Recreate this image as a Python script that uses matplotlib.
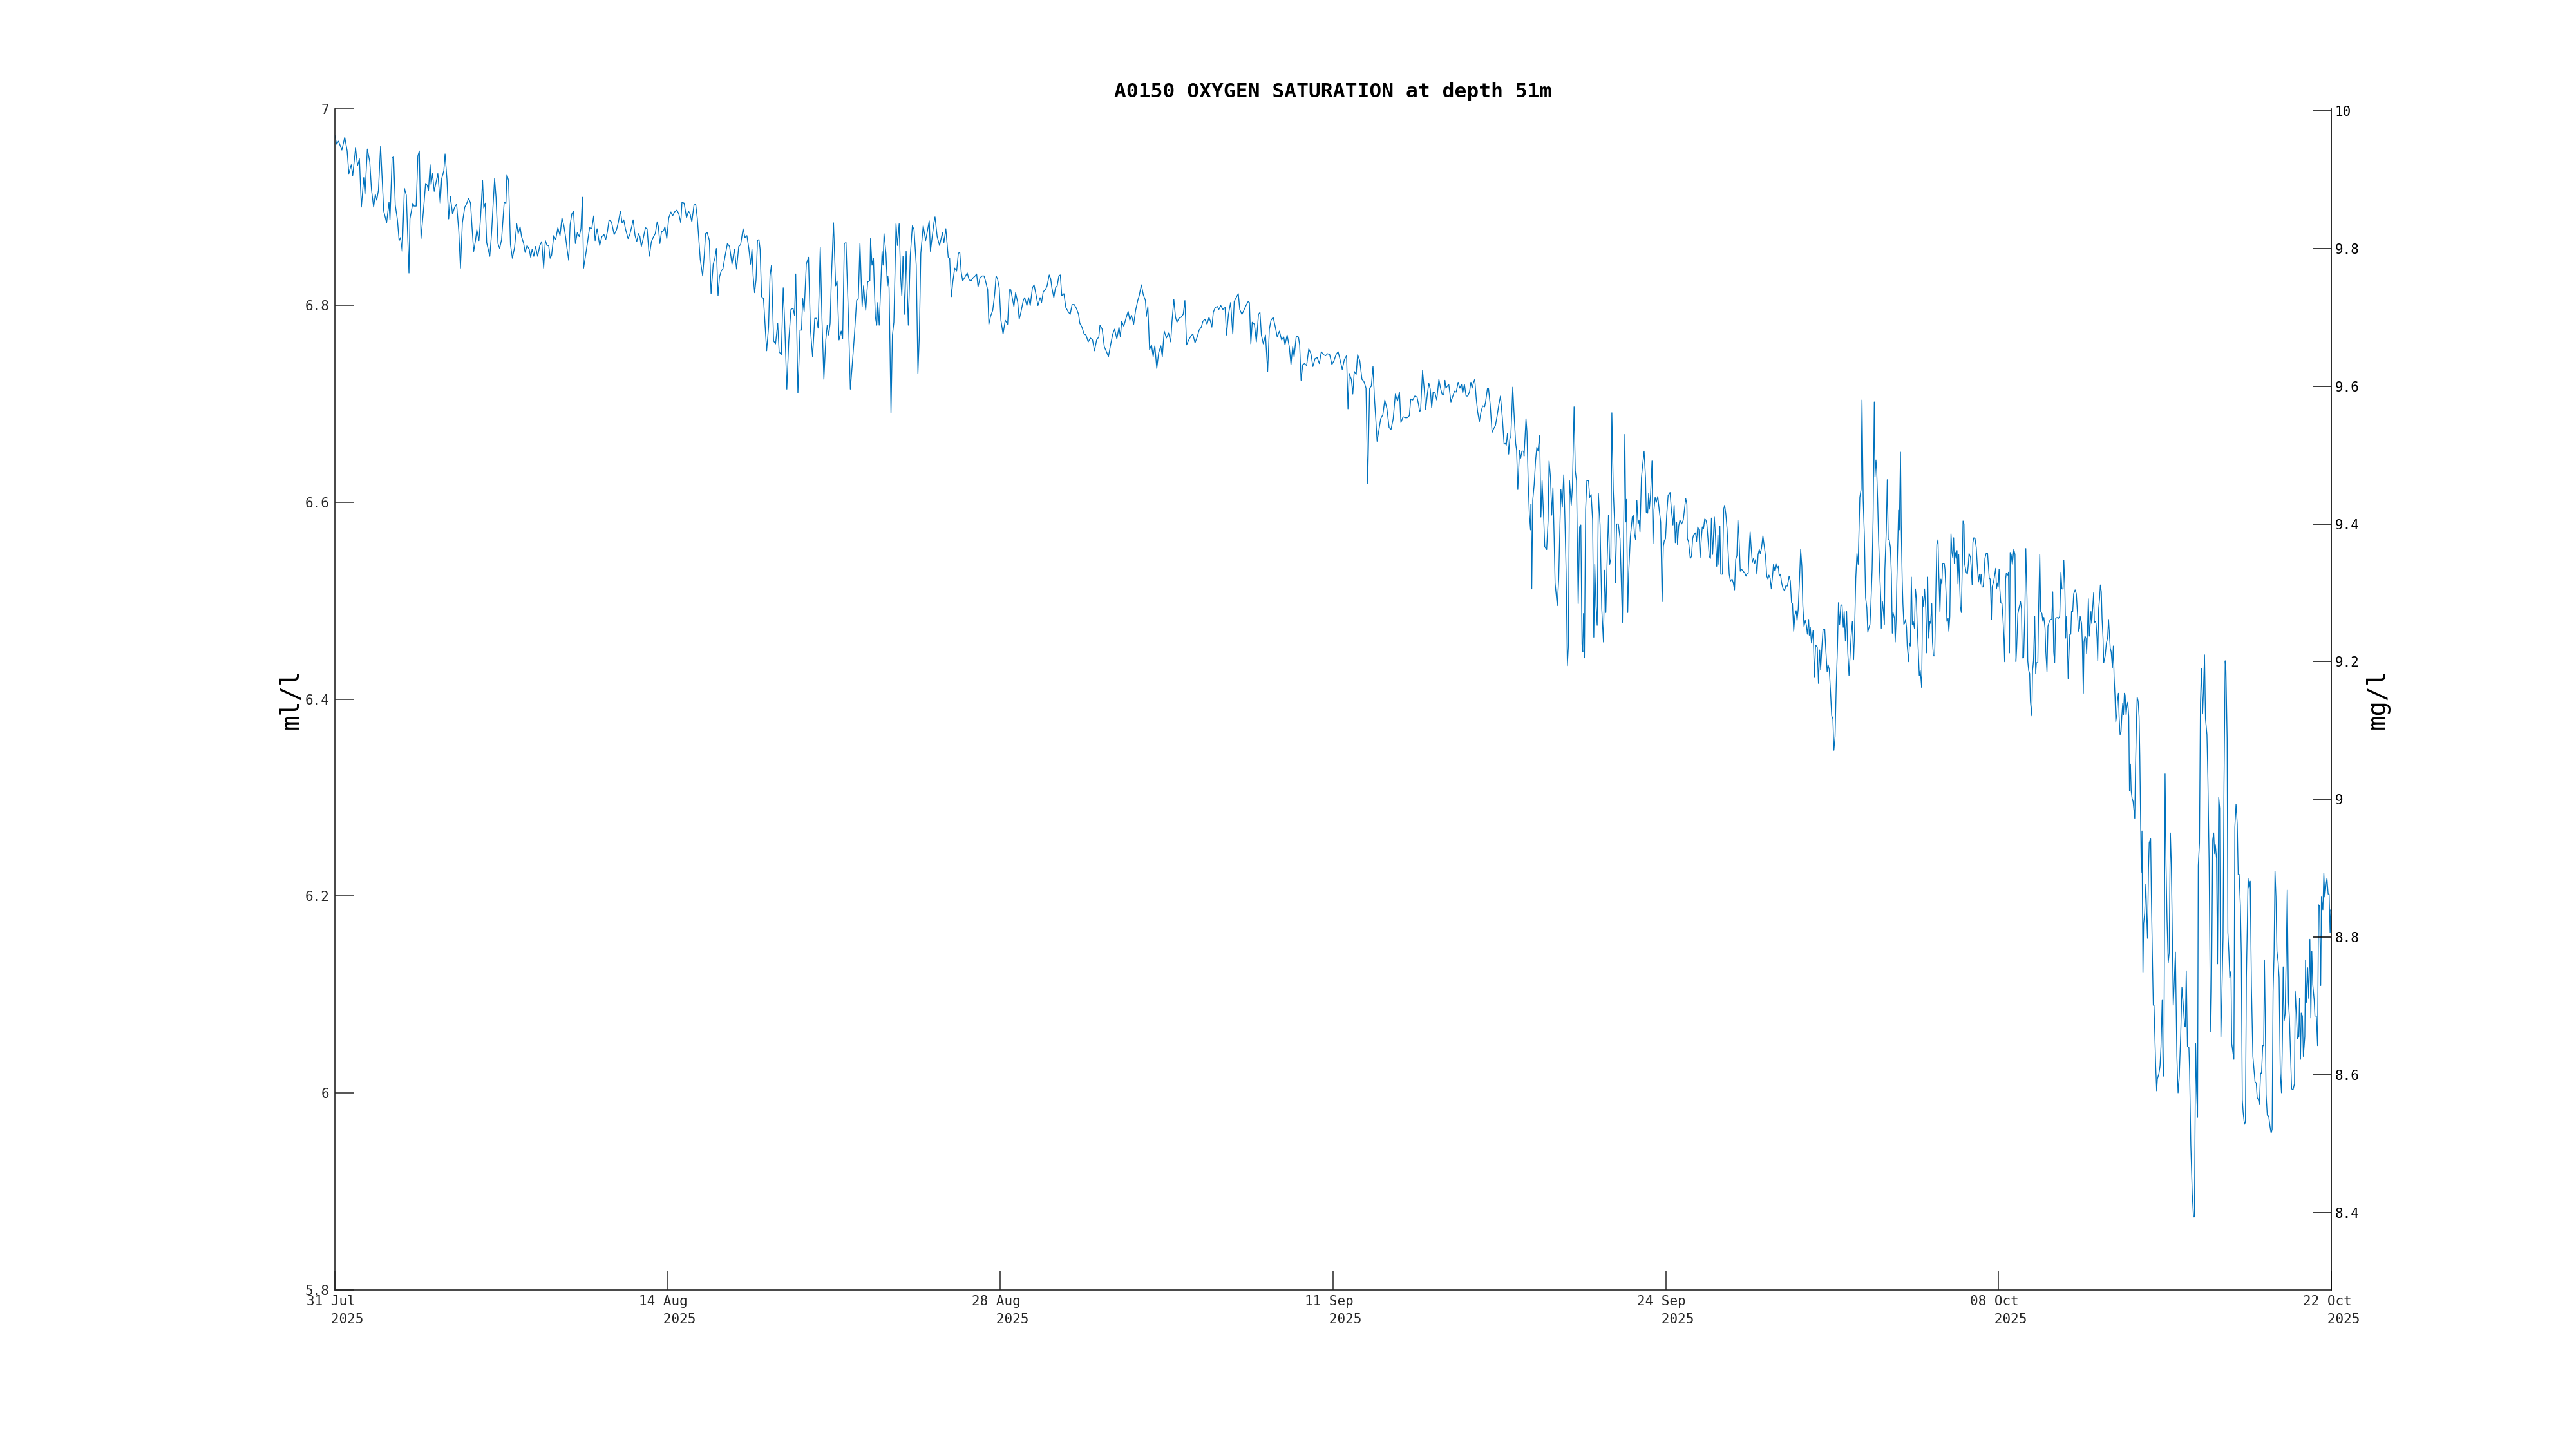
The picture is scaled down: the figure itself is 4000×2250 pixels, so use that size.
import matplotlib
matplotlib.use("Agg")
import matplotlib.pyplot as plt
import matplotlib.dates as mdates
import numpy as np
from datetime import datetime, timedelta

title = "A0150 OXYGEN SATURATION at depth 51m"
left_label = "ml/l"
right_label = "mg/l"

start_date = datetime(2025, 7, 31)
end_date = datetime(2025, 10, 22)
date_labels = ["31 Jul", "14 Aug", "28 Aug", "11 Sep", "24 Sep", "08 Oct", "22 Oct"]
year_label = "2025"

ml_ticks = [5.8, 6.0, 6.2, 6.4, 6.6, 6.8, 7.0]
mg_ticks = [8.4, 8.6, 8.8, 9.0, 9.2, 9.4, 9.6, 9.8, 10.0]
ml_to_mg = 1.429

# (days since 31 Jul, oxygen ml/l), one list per stretch
seg_jul_aug = [
    (0.00, 6.973), (0.07, 6.964), (0.15, 6.967), (0.29, 6.958), (0.41, 6.971), (0.51, 6.957), (0.58, 6.934), (0.68, 6.943),
    (0.74, 6.932), (0.86, 6.960), (0.94, 6.942), (1.02, 6.949), (1.10, 6.900), (1.20, 6.930), (1.25, 6.913), (1.35, 6.959),
    (1.45, 6.946), (1.52, 6.918), (1.61, 6.900), (1.68, 6.913), (1.74, 6.907), (1.81, 6.917), (1.90, 6.962), (2.03, 6.896),
    (2.15, 6.884), (2.25, 6.905), (2.29, 6.887), (2.38, 6.950), (2.44, 6.951), (2.51, 6.902), (2.60, 6.887), (2.67, 6.866),
    (2.73, 6.869), (2.80, 6.855), (2.89, 6.919), (2.97, 6.912), (3.08, 6.833), (3.12, 6.888), (3.24, 6.904), (3.29, 6.901),
    (3.38, 6.901), (3.45, 6.952), (3.51, 6.957), (3.58, 6.868), (3.70, 6.902), (3.77, 6.924), (3.84, 6.922), (3.89, 6.917),
    (3.96, 6.943), (4.00, 6.923), (4.06, 6.934), (4.13, 6.916), (4.28, 6.934), (4.38, 6.904), (4.44, 6.929), (4.53, 6.937),
    (4.58, 6.954), (4.66, 6.928), (4.73, 6.888), (4.80, 6.911), (4.89, 6.893), (4.98, 6.900), (5.06, 6.903), (5.15, 6.876),
    (5.22, 6.838), (5.30, 6.884), (5.40, 6.900), (5.47, 6.903), (5.56, 6.909), (5.64, 6.904), (5.70, 6.880), (5.77, 6.855),
    (5.85, 6.867), (5.90, 6.877), (5.99, 6.866), (6.06, 6.891), (6.14, 6.927), (6.19, 6.899), (6.25, 6.904), (6.31, 6.864),
    (6.44, 6.850), (6.51, 6.872), (6.57, 6.899), (6.64, 6.929), (6.70, 6.910), (6.78, 6.863), (6.85, 6.858), (6.93, 6.867),
    (7.04, 6.905), (7.11, 6.904), (7.15, 6.933), (7.22, 6.927), (7.30, 6.862), (7.38, 6.848), (7.47, 6.859), (7.56, 6.883),
    (7.62, 6.873), (7.70, 6.880), (7.76, 6.870), (7.85, 6.863), (7.91, 6.854), (7.99, 6.861), (8.08, 6.857), (8.14, 6.849),
    (8.20, 6.857), (8.27, 6.850), (8.34, 6.860), (8.43, 6.850), (8.52, 6.861), (8.60, 6.865), (8.68, 6.838), (8.75, 6.866),
    (8.82, 6.861), (8.89, 6.861), (8.95, 6.848), (9.01, 6.851), (9.10, 6.871), (9.18, 6.867), (9.27, 6.879), (9.36, 6.871),
    (9.44, 6.889), (9.52, 6.881), (9.59, 6.870), (9.65, 6.858), (9.72, 6.846), (9.78, 6.882), (9.85, 6.893), (9.92, 6.896),
    (10.00, 6.863), (10.08, 6.874), (10.16, 6.870), (10.23, 6.878), (10.29, 6.910), (10.34, 6.838), (10.43, 6.852), (10.52, 6.867),
    (10.59, 6.879), (10.68, 6.878), (10.76, 6.891), (10.82, 6.866), (10.90, 6.878), (11.01, 6.861), (11.10, 6.870), (11.19, 6.872),
    (11.26, 6.867), (11.33, 6.875), (11.40, 6.887), (11.50, 6.885), (11.61, 6.872), (11.71, 6.877), (11.78, 6.884), (11.87, 6.896),
    (11.94, 6.884), (12.01, 6.887), (12.08, 6.878), (12.19, 6.868), (12.26, 6.872), (12.35, 6.881), (12.40, 6.887), (12.48, 6.871),
    (12.55, 6.865), (12.62, 6.873), (12.68, 6.870), (12.74, 6.860), (12.81, 6.867), (12.91, 6.879), (12.98, 6.878), (13.07, 6.850),
    (13.16, 6.865), (13.25, 6.870), (13.32, 6.873), (13.40, 6.885), (13.45, 6.880), (13.51, 6.863), (13.58, 6.875), (13.67, 6.876),
    (13.72, 6.880), (13.80, 6.868), (13.88, 6.889), (13.97, 6.895), (14.04, 6.891), (14.12, 6.895), (14.22, 6.897), (14.30, 6.893),
    (14.38, 6.884), (14.43, 6.905), (14.52, 6.904), (14.62, 6.889), (14.70, 6.896), (14.77, 6.893), (14.84, 6.885), (14.93, 6.902),
    (15.00, 6.903), (15.07, 6.888), (15.19, 6.847), (15.29, 6.830), (15.36, 6.852), (15.41, 6.873), (15.48, 6.874), (15.57, 6.866),
    (15.64, 6.812), (15.73, 6.842), (15.80, 6.848), (15.86, 6.858), (15.93, 6.810), (15.99, 6.829), (16.06, 6.835), (16.13, 6.837),
    (16.22, 6.850), (16.32, 6.863), (16.41, 6.860), (16.51, 6.842), (16.61, 6.857), (16.70, 6.837), (16.79, 6.860), (16.87, 6.862),
    (16.97, 6.878), (17.05, 6.869), (17.13, 6.871), (17.21, 6.858), (17.28, 6.842), (17.34, 6.857), (17.39, 6.830), (17.45, 6.813),
    (17.51, 6.826), (17.57, 6.866), (17.63, 6.867), (17.68, 6.857), (17.74, 6.809), (17.82, 6.807), (17.95, 6.754), (18.03, 6.778),
    (18.09, 6.830), (18.15, 6.841), (18.24, 6.764), (18.32, 6.761), (18.41, 6.782), (18.47, 6.753), (18.56, 6.750), (18.64, 6.818),
    (18.70, 6.783), (18.79, 6.715), (18.87, 6.764), (18.96, 6.796), (19.05, 6.797), (19.11, 6.790), (19.16, 6.832), (19.25, 6.711),
    (19.34, 6.775), (19.40, 6.775), (19.45, 6.807), (19.51, 6.794), (19.60, 6.842), (19.69, 6.849), (19.77, 6.776), (19.86, 6.748),
    (19.95, 6.787), (20.03, 6.787), (20.09, 6.777), (20.18, 6.859), (20.25, 6.787), (20.33, 6.725), (20.41, 6.765), (20.47, 6.780),
    (20.53, 6.770), (20.59, 6.782), (20.64, 6.826), (20.73, 6.884), (20.82, 6.820), (20.88, 6.825), (20.96, 6.765), (21.05, 6.774),
    (21.11, 6.766), (21.18, 6.863), (21.25, 6.864), (21.34, 6.796), (21.43, 6.715), (21.51, 6.740), (21.60, 6.770), (21.69, 6.805),
    (21.76, 6.807), (21.83, 6.863), (21.92, 6.799), (21.98, 6.820), (22.07, 6.795), (22.15, 6.824), (22.24, 6.825),
]

seg_aug_sep = [
    (22.27, 6.868), (22.33, 6.841), (22.39, 6.848), (22.47, 6.788), (22.53, 6.780), (22.57, 6.803), (22.63, 6.780), (22.75, 6.855),
    (22.79, 6.841), (22.83, 6.873), (22.91, 6.853), (22.97, 6.820), (22.99, 6.830), (23.04, 6.818), (23.12, 6.691), (23.18, 6.770),
    (23.24, 6.783), (23.33, 6.883), (23.39, 6.861), (23.46, 6.883), (23.52, 6.830), (23.57, 6.810), (23.62, 6.850), (23.69, 6.791),
    (23.75, 6.855), (23.84, 6.780), (23.92, 6.850), (24.01, 6.881), (24.08, 6.877), (24.17, 6.841), (24.24, 6.731), (24.30, 6.770),
    (24.36, 6.853), (24.46, 6.881), (24.56, 6.866), (24.63, 6.875), (24.71, 6.886), (24.76, 6.855), (24.85, 6.873), (24.91, 6.885),
    (24.95, 6.890), (25.04, 6.870), (25.14, 6.861), (25.26, 6.874), (25.32, 6.864), (25.40, 6.878), (25.50, 6.849), (25.56, 6.848),
    (25.63, 6.809), (25.69, 6.824), (25.77, 6.838), (25.85, 6.835), (25.92, 6.853), (25.98, 6.854), (26.04, 6.834), (26.10, 6.825),
    (26.20, 6.829), (26.29, 6.833), (26.37, 6.826), (26.45, 6.825), (26.53, 6.828), (26.62, 6.830), (26.68, 6.832), (26.74, 6.819),
    (26.82, 6.828), (26.91, 6.830), (26.99, 6.830), (27.06, 6.824), (27.14, 6.816), (27.19, 6.781), (27.26, 6.789), (27.35, 6.795),
    (27.43, 6.811), (27.49, 6.830), (27.55, 6.827), (27.62, 6.818), (27.69, 6.785), (27.78, 6.771), (27.87, 6.785), (27.97, 6.781),
    (28.04, 6.816), (28.10, 6.816), (28.16, 6.808), (28.23, 6.799), (28.30, 6.813), (28.39, 6.803), (28.45, 6.786), (28.52, 6.793),
    (28.62, 6.805), (28.68, 6.808), (28.77, 6.800), (28.84, 6.808), (28.91, 6.800), (29.00, 6.818), (29.07, 6.821), (29.15, 6.811),
    (29.23, 6.800), (29.32, 6.808), (29.38, 6.803), (29.45, 6.814), (29.54, 6.816), (29.61, 6.820), (29.70, 6.831), (29.76, 6.827),
    (29.81, 6.818), (29.89, 6.808), (29.96, 6.818), (30.03, 6.820), (30.10, 6.830), (30.16, 6.831), (30.22, 6.810), (30.31, 6.812),
    (30.39, 6.798), (30.48, 6.794), (30.57, 6.791), (30.65, 6.801), (30.74, 6.801), (30.83, 6.797), (30.92, 6.791), (30.97, 6.782),
    (31.06, 6.778), (31.15, 6.771), (31.23, 6.770), (31.32, 6.763), (31.41, 6.767), (31.50, 6.765), (31.58, 6.754), (31.67, 6.765),
    (31.76, 6.768), (31.81, 6.780), (31.90, 6.776), (31.99, 6.758), (32.08, 6.753), (32.16, 6.748), (32.25, 6.760), (32.34, 6.771),
    (32.42, 6.776), (32.51, 6.766), (32.60, 6.778), (32.66, 6.768), (32.71, 6.784), (32.80, 6.779), (32.89, 6.787), (32.98, 6.794),
    (33.05, 6.785), (33.12, 6.790), (33.21, 6.781), (33.29, 6.795), (33.38, 6.805), (33.44, 6.810), (33.53, 6.821), (33.61, 6.811),
    (33.70, 6.805), (33.74, 6.789), (33.80, 6.799), (33.87, 6.755), (33.95, 6.760), (34.02, 6.748), (34.09, 6.759), (34.17, 6.736),
    (34.25, 6.752), (34.34, 6.759), (34.40, 6.748), (34.48, 6.774), (34.57, 6.767), (34.66, 6.772), (34.75, 6.763), (34.80, 6.783),
    (34.88, 6.806), (34.95, 6.788), (35.01, 6.783), (35.09, 6.787), (35.18, 6.788), (35.27, 6.791), (35.34, 6.805), (35.41, 6.760),
    (35.50, 6.765), (35.59, 6.769), (35.67, 6.771), (35.76, 6.762), (35.85, 6.768), (35.93, 6.775), (36.02, 6.778), (36.09, 6.784),
    (36.17, 6.786), (36.26, 6.781), (36.34, 6.788), (36.40, 6.784), (36.46, 6.778), (36.52, 6.793), (36.60, 6.798), (36.69, 6.799),
    (36.75, 6.796), (36.83, 6.800), (36.92, 6.796), (37.01, 6.798), (37.07, 6.770), (37.15, 6.791), (37.24, 6.803), (37.33, 6.771),
    (37.39, 6.804), (37.47, 6.808), (37.56, 6.812), (37.62, 6.796), (37.71, 6.791), (37.79, 6.795), (37.88, 6.800), (37.97, 6.804),
    (38.02, 6.803), (38.08, 6.761), (38.14, 6.783), (38.23, 6.781), (38.31, 6.763), (38.40, 6.791), (38.46, 6.793), (38.52, 6.770),
    (38.60, 6.761), (38.69, 6.770), (38.78, 6.733), (38.85, 6.776), (38.92, 6.785), (39.01, 6.788), (39.10, 6.778), (39.18, 6.768),
    (39.27, 6.774), (39.36, 6.765), (39.45, 6.768), (39.50, 6.760), (39.59, 6.770), (39.68, 6.758), (39.75, 6.740), (39.82, 6.758),
    (39.88, 6.748), (39.97, 6.769), (40.06, 6.768), (40.11, 6.760), (40.17, 6.724), (40.24, 6.740), (40.32, 6.741), (40.40, 6.739),
    (40.49, 6.756), (40.58, 6.751), (40.66, 6.738), (40.75, 6.746), (40.84, 6.747), (40.93, 6.741), (41.01, 6.753), (41.10, 6.750),
    (41.19, 6.749), (41.27, 6.751), (41.36, 6.750), (41.45, 6.740), (41.54, 6.744), (41.62, 6.750), (41.71, 6.753), (41.80, 6.744),
    (41.88, 6.735), (41.97, 6.745), (42.06, 6.749), (42.12, 6.695), (42.17, 6.731), (42.26, 6.725), (42.32, 6.710), (42.38, 6.733),
    (42.46, 6.730), (42.52, 6.750), (42.61, 6.744), (42.70, 6.725), (42.78, 6.723), (42.87, 6.716), (42.94, 6.619), (43.02, 6.716),
    (43.09, 6.718), (43.16, 6.738), (43.22, 6.706), (43.28, 6.683), (43.33, 6.662), (43.39, 6.671), (43.48, 6.685), (43.57, 6.689),
    (43.65, 6.704), (43.74, 6.695), (43.83, 6.676), (43.91, 6.674), (44.00, 6.685), (44.09, 6.710), (44.18, 6.703), (44.26, 6.712),
    (44.32, 6.681), (44.41, 6.687), (44.49, 6.686), (44.58, 6.686), (44.67, 6.688), (44.73, 6.705), (44.81, 6.704), (44.90, 6.708),
    (44.99, 6.707),
]

seg_sep_oct = [
    (45.05, 6.700), (45.10, 6.692), (45.14, 6.694), (45.22, 6.734), (45.29, 6.715), (45.35, 6.694), (45.42, 6.710), (45.48, 6.721),
    (45.54, 6.715), (45.60, 6.696), (45.66, 6.712), (45.74, 6.711), (45.81, 6.704), (45.90, 6.725), (45.96, 6.717), (46.03, 6.710),
    (46.10, 6.709), (46.15, 6.724), (46.19, 6.716), (46.31, 6.720), (46.40, 6.702), (46.48, 6.708), (46.55, 6.713), (46.62, 6.712),
    (46.70, 6.722), (46.77, 6.716), (46.84, 6.720), (46.89, 6.711), (46.96, 6.720), (47.03, 6.708), (47.10, 6.708), (47.17, 6.712),
    (47.23, 6.722), (47.28, 6.716), (47.34, 6.722), (47.39, 6.725), (47.45, 6.706), (47.51, 6.692), (47.58, 6.682), (47.65, 6.692),
    (47.72, 6.698), (47.80, 6.697), (47.84, 6.702), (47.92, 6.716), (47.96, 6.716), (48.03, 6.700), (48.11, 6.671), (48.18, 6.675),
    (48.25, 6.678), (48.32, 6.688), (48.39, 6.699), (48.46, 6.708), (48.54, 6.685), (48.61, 6.659), (48.66, 6.660), (48.70, 6.658),
    (48.75, 6.670), (48.80, 6.649), (48.85, 6.665), (48.89, 6.667), (48.97, 6.717), (49.01, 6.697), (49.09, 6.660), (49.13, 6.653),
    (49.18, 6.613), (49.25, 6.653), (49.30, 6.645), (49.35, 6.652), (49.42, 6.652), (49.44, 6.647), (49.52, 6.685), (49.56, 6.672),
    (49.61, 6.622), (49.66, 6.588), (49.71, 6.572), (49.73, 6.598), (49.76, 6.512), (49.80, 6.602), (49.86, 6.618), (49.92, 6.643),
    (49.97, 6.656), (50.02, 6.652), (50.09, 6.668), (50.14, 6.585), (50.19, 6.622), (50.26, 6.582), (50.30, 6.555), (50.38, 6.552),
    (50.44, 6.582), (50.48, 6.642), (50.54, 6.625), (50.59, 6.587), (50.64, 6.615), (50.69, 6.565), (50.73, 6.518), (50.82, 6.495),
    (50.88, 6.522), (50.93, 6.575), (50.97, 6.613), (51.03, 6.595), (51.09, 6.628), (51.14, 6.582), (51.19, 6.528), (51.24, 6.434),
    (51.28, 6.453), (51.33, 6.622), (51.40, 6.597), (51.45, 6.615), (51.52, 6.697), (51.57, 6.632), (51.62, 6.622), (51.69, 6.497),
    (51.75, 6.575), (51.80, 6.577), (51.85, 6.456), (51.88, 6.448), (51.91, 6.487), (51.95, 6.442), (52.00, 6.593), (52.05, 6.622),
    (52.12, 6.622), (52.17, 6.605), (52.23, 6.608), (52.29, 6.582), (52.34, 6.463), (52.38, 6.537), (52.43, 6.495), (52.48, 6.475),
    (52.53, 6.609), (52.60, 6.577), (52.67, 6.492), (52.74, 6.458), (52.79, 6.531), (52.84, 6.488), (52.89, 6.537), (52.95, 6.587),
    (53.00, 6.537), (53.05, 6.543), (53.09, 6.691), (53.15, 6.612), (53.20, 6.582), (53.24, 6.518), (53.29, 6.578), (53.36, 6.578),
    (53.43, 6.563), (53.48, 6.522), (53.53, 6.478), (53.58, 6.572), (53.63, 6.669), (53.67, 6.580), (53.70, 6.603), (53.75, 6.488),
    (53.79, 6.528), (53.86, 6.565), (53.94, 6.585), (53.98, 6.587), (54.03, 6.568), (54.08, 6.562), (54.13, 6.602), (54.18, 6.578),
    (54.22, 6.582), (54.26, 6.570), (54.32, 6.625), (54.37, 6.638), (54.43, 6.652), (54.49, 6.625), (54.52, 6.590), (54.58, 6.589),
    (54.62, 6.609), (54.65, 6.593), (54.70, 6.608), (54.76, 6.642), (54.80, 6.558), (54.84, 6.592), (54.89, 6.605), (54.94, 6.600),
    (55.00, 6.606), (55.06, 6.592), (55.12, 6.580), (55.18, 6.499), (55.23, 6.555), (55.27, 6.561), (55.32, 6.563), (55.37, 6.587),
    (55.43, 6.607), (55.51, 6.610), (55.57, 6.591), (55.63, 6.577), (55.68, 6.597), (55.73, 6.559), (55.78, 6.580), (55.82, 6.557),
    (55.87, 6.576), (55.92, 6.582), (55.99, 6.578), (56.06, 6.582), (56.11, 6.593), (56.16, 6.604), (56.21, 6.598), (56.23, 6.563),
    (56.28, 6.560), (56.35, 6.543), (56.40, 6.545), (56.45, 6.563), (56.49, 6.567), (56.57, 6.569), (56.61, 6.560), (56.66, 6.575),
    (56.71, 6.572), (56.76, 6.544), (56.80, 6.560), (56.85, 6.575), (56.90, 6.573), (56.95, 6.583), (57.00, 6.582), (57.04, 6.578),
    (57.09, 6.562), (57.14, 6.545), (57.19, 6.543), (57.23, 6.584), (57.28, 6.547), (57.35, 6.585), (57.40, 6.565), (57.45, 6.535),
    (57.50, 6.567), (57.54, 6.537), (57.58, 6.576), (57.62, 6.527), (57.69, 6.527), (57.74, 6.593), (57.78, 6.597), (57.83, 6.588),
    (57.88, 6.573), (57.93, 6.547), (57.97, 6.527), (58.02, 6.520), (58.09, 6.522), (58.14, 6.518), (58.19, 6.511), (58.24, 6.542),
    (58.29, 6.546), (58.33, 6.582), (58.38, 6.562), (58.43, 6.530), (58.48, 6.532), (58.55, 6.530), (58.62, 6.528), (58.67, 6.525),
    (58.72, 6.528), (58.76, 6.528), (58.81, 6.558), (58.84, 6.570), (58.88, 6.555), (58.93, 6.539), (58.98, 6.543), (59.03, 6.538),
    (59.07, 6.542), (59.12, 6.527), (59.17, 6.547), (59.22, 6.552), (59.26, 6.548), (59.31, 6.553), (59.37, 6.566), (59.43, 6.555),
    (59.48, 6.545), (59.53, 6.525), (59.58, 6.522), (59.62, 6.526), (59.67, 6.523), (59.72, 6.512), (59.77, 6.525), (59.81, 6.537),
    (59.86, 6.531), (59.91, 6.538), (59.96, 6.533), (60.01, 6.535), (60.05, 6.525), (60.10, 6.527), (60.15, 6.518), (60.20, 6.513),
    (60.27, 6.510), (60.32, 6.515), (60.39, 6.515), (60.46, 6.525), (60.51, 6.520), (60.56, 6.498), (60.60, 6.497), (60.65, 6.469),
    (60.70, 6.485), (60.75, 6.490), (60.79, 6.480), (60.84, 6.492), (60.89, 6.521), (60.94, 6.552), (60.99, 6.535), (61.03, 6.495),
    (61.08, 6.474), (61.13, 6.480), (61.18, 6.475), (61.22, 6.466), (61.27, 6.481), (61.30, 6.465), (61.34, 6.473), (61.39, 6.457),
    (61.46, 6.470), (61.51, 6.422), (61.56, 6.455), (61.63, 6.453), (61.68, 6.416), (61.73, 6.450), (61.77, 6.430), (61.82, 6.452),
    (61.87, 6.471), (61.94, 6.471), (61.99, 6.448), (62.04, 6.428), (62.08, 6.435), (62.13, 6.430), (62.18, 6.408), (62.23, 6.383),
    (62.28, 6.380), (62.32, 6.348), (62.37, 6.362), (62.42, 6.415), (62.47, 6.453), (62.51, 6.498), (62.56, 6.476), (62.61, 6.495),
    (62.66, 6.496), (62.71, 6.473), (62.75, 6.489), (62.80, 6.459), (62.85, 6.489), (62.90, 6.447), (62.95, 6.424), (62.99, 6.442),
    (63.04, 6.465), (63.09, 6.479), (63.14, 6.440), (63.18, 6.468), (63.23, 6.523), (63.28, 6.548), (63.33, 6.537), (63.40, 6.605),
    (63.45, 6.613), (63.49, 6.704), (63.54, 6.602), (63.59, 6.565), (63.64, 6.503), (63.69, 6.493), (63.73, 6.468),
]

seg_oct = [
    (63.77, 6.472), (63.82, 6.476), (63.86, 6.497), (63.91, 6.532), (63.95, 6.582), (64.00, 6.702), (64.03, 6.626), (64.07, 6.643),
    (64.10, 6.632), (64.14, 6.602), (64.18, 6.562), (64.22, 6.532), (64.27, 6.502), (64.29, 6.472), (64.34, 6.499), (64.37, 6.492),
    (64.42, 6.476), (64.44, 6.532), (64.50, 6.572), (64.54, 6.623), (64.58, 6.562), (64.62, 6.562), (64.67, 6.554), (64.71, 6.527),
    (64.75, 6.467), (64.78, 6.488), (64.84, 6.482), (64.87, 6.458), (64.91, 6.482), (64.94, 6.522), (64.98, 6.562), (65.01, 6.592),
    (65.04, 6.572), (65.09, 6.651), (65.12, 6.577), (65.16, 6.522), (65.19, 6.497), (65.23, 6.476), (65.26, 6.477), (65.30, 6.481),
    (65.34, 6.473), (65.37, 6.454), (65.43, 6.438), (65.46, 6.457), (65.50, 6.454), (65.54, 6.524), (65.58, 6.476), (65.62, 6.479),
    (65.67, 6.472), (65.71, 6.512), (65.75, 6.502), (65.78, 6.477), (65.83, 6.449), (65.87, 6.424), (65.91, 6.429), (65.94, 6.421),
    (65.97, 6.412), (66.01, 6.504), (66.05, 6.494), (66.09, 6.512), (66.14, 6.492), (66.18, 6.447), (66.22, 6.524), (66.26, 6.462),
    (66.31, 6.479), (66.34, 6.477), (66.39, 6.497), (66.42, 6.458), (66.46, 6.444), (66.51, 6.444), (66.57, 6.522), (66.60, 6.557),
    (66.65, 6.562), (66.68, 6.529), (66.73, 6.489), (66.77, 6.522), (66.81, 6.517), (66.84, 6.538), (66.91, 6.538), (66.94, 6.532),
    (66.99, 6.504), (67.02, 6.479), (67.07, 6.482), (67.10, 6.469), (67.14, 6.484), (67.19, 6.568), (67.23, 6.549), (67.26, 6.544),
    (67.30, 6.564), (67.33, 6.538), (67.37, 6.549), (67.41, 6.543), (67.44, 6.551), (67.48, 6.517), (67.51, 6.547), (67.55, 6.517),
    (67.58, 6.494), (67.62, 6.488), (67.66, 6.537), (67.69, 6.581), (67.73, 6.578), (67.76, 6.537), (67.82, 6.529), (67.87, 6.527),
    (67.91, 6.537), (67.94, 6.548), (68.00, 6.544), (68.03, 6.534), (68.07, 6.516), (68.10, 6.559), (68.14, 6.564), (68.19, 6.563),
    (68.24, 6.554), (68.28, 6.537), (68.33, 6.519), (68.37, 6.527), (68.41, 6.517), (68.44, 6.527), (68.48, 6.514), (68.53, 6.514),
    (68.57, 6.529), (68.60, 6.543), (68.65, 6.548), (68.71, 6.548), (68.74, 6.537), (68.78, 6.523), (68.82, 6.522), (68.85, 6.499),
    (68.87, 6.481), (68.90, 6.514), (68.96, 6.519), (69.01, 6.527), (69.05, 6.533), (69.08, 6.512), (69.12, 6.518), (69.15, 6.514),
    (69.19, 6.532), (69.22, 6.512), (69.26, 6.498), (69.31, 6.497), (69.35, 6.482), (69.39, 6.462), (69.42, 6.438), (69.46, 6.522),
    (69.49, 6.528), (69.55, 6.526), (69.58, 6.529), (69.62, 6.447), (69.65, 6.549), (69.69, 6.547), (69.74, 6.537), (69.80, 6.552),
    (69.85, 6.547), (69.89, 6.438), (69.92, 6.452), (69.97, 6.487), (70.03, 6.494), (70.08, 6.499), (70.12, 6.492), (70.15, 6.442),
    (70.21, 6.442), (70.26, 6.487), (70.30, 6.553), (70.35, 6.502), (70.38, 6.439), (70.42, 6.429), (70.46, 6.426), (70.49, 6.398),
    (70.55, 6.383), (70.58, 6.429), (70.62, 6.439), (70.67, 6.484), (70.71, 6.426), (70.74, 6.437), (70.80, 6.437), (70.83, 6.487),
    (70.88, 6.547), (70.92, 6.489), (70.97, 6.487), (71.01, 6.479), (71.05, 6.483), (71.10, 6.472), (71.13, 6.449), (71.18, 6.428),
    (71.22, 6.474), (71.28, 6.479), (71.33, 6.481), (71.38, 6.481), (71.42, 6.509), (71.46, 6.448), (71.50, 6.437), (71.54, 6.482),
    (71.60, 6.483), (71.65, 6.482), (71.71, 6.484), (71.76, 6.529), (71.80, 6.512), (71.85, 6.512), (71.88, 6.541), (71.92, 6.517),
    (71.96, 6.462), (71.99, 6.484), (72.03, 6.457), (72.06, 6.421), (72.10, 6.449), (72.13, 6.466), (72.17, 6.466), (72.20, 6.489),
    (72.25, 6.489), (72.29, 6.507), (72.35, 6.511), (72.40, 6.507), (72.45, 6.487), (72.49, 6.469), (72.53, 6.472), (72.56, 6.484),
    (72.62, 6.477), (72.65, 6.457), (72.69, 6.406), (72.72, 6.458), (72.76, 6.464), (72.80, 6.462), (72.83, 6.446), (72.87, 6.474),
    (72.90, 6.502), (72.94, 6.464), (72.97, 6.474), (73.01, 6.489), (73.04, 6.477), (73.08, 6.492), (73.12, 6.508), (73.15, 6.478),
    (73.19, 6.479), (73.22, 6.477), (73.26, 6.462), (73.29, 6.439), (73.33, 6.492), (73.37, 6.503), (73.40, 6.516), (73.44, 6.509),
    (73.47, 6.482), (73.51, 6.462), (73.54, 6.437), (73.60, 6.444), (73.65, 6.457), (73.70, 6.462), (73.74, 6.481), (73.77, 6.469),
    (73.81, 6.452), (73.85, 6.448), (73.90, 6.432), (73.94, 6.454), (73.97, 6.423), (74.01, 6.402), (74.04, 6.377), (74.08, 6.384),
    (74.11, 6.398), (74.15, 6.406), (74.18, 6.382), (74.22, 6.364), (74.26, 6.367), (74.29, 6.382), (74.33, 6.396), (74.36, 6.384),
    (74.40, 6.406), (74.43, 6.404), (74.47, 6.384), (74.51, 6.394), (74.54, 6.397), (74.58, 6.382), (74.61, 6.307), (74.65, 6.334),
    (74.68, 6.307), (74.72, 6.299), (74.76, 6.296), (74.79, 6.289), (74.83, 6.279), (74.86, 6.329), (74.90, 6.377), (74.93, 6.402),
    (74.97, 6.398), (75.01, 6.382), (75.04, 6.342), (75.08, 6.267), (75.10, 6.224), (75.13, 6.266), (75.17, 6.122), (75.20, 6.172),
    (75.24, 6.182), (75.29, 6.212), (75.33, 6.177), (75.36, 6.157), (75.40, 6.227), (75.43, 6.254), (75.49, 6.258), (75.52, 6.202),
    (75.56, 6.142), (75.60, 6.089), (75.63, 6.089), (75.67, 6.052), (75.70, 6.027), (75.74, 6.002), (75.77, 6.014), (75.83, 6.019),
    (75.88, 6.027), (75.92, 6.047), (75.97, 6.094), (76.01, 6.017), (76.04, 6.017), (76.09, 6.324), (76.13, 6.232), (76.17, 6.177),
    (76.22, 6.132), (76.26, 6.142), (76.31, 6.264), (76.35, 6.232), (76.38, 6.182), (76.43, 6.089), (76.47, 6.112), (76.52, 6.143),
    (76.58, 6.037), (76.63, 6.000), (76.68, 6.017), (76.74, 6.059), (76.79, 6.107), (76.84, 6.092), (76.90, 6.068), (76.93, 6.067),
    (76.97, 6.124), (77.02, 6.047), (77.08, 6.046), (77.11, 6.022),
]

seg_late_oct = [
    (77.16, 5.947), (77.22, 5.897), (77.27, 5.874), (77.31, 5.874), (77.36, 6.050), (77.40, 6.002), (77.44, 5.975), (77.47, 6.231),
    (77.52, 6.254), (77.56, 6.396), (77.60, 6.431), (77.65, 6.385), (77.69, 6.413), (77.73, 6.445), (77.77, 6.380), (77.83, 6.364),
    (77.87, 6.319), (77.92, 6.236), (77.96, 6.121), (77.99, 6.062), (78.02, 6.103), (78.07, 6.257), (78.11, 6.264), (78.15, 6.243),
    (78.18, 6.252), (78.23, 6.238), (78.27, 6.131), (78.32, 6.300), (78.36, 6.289), (78.41, 6.057), (78.45, 6.098), (78.50, 6.158),
    (78.54, 6.314), (78.59, 6.439), (78.62, 6.429), (78.67, 6.360), (78.70, 6.163), (78.74, 6.144), (78.78, 6.117), (78.83, 6.124),
    (78.86, 6.050), (78.91, 6.041), (78.95, 6.034), (78.99, 6.270), (79.04, 6.293), (79.09, 6.273), (79.13, 6.222), (79.17, 6.222),
    (79.22, 6.190), (79.26, 6.140), (79.30, 5.993), (79.34, 5.979), (79.39, 5.968), (79.43, 5.970), (79.47, 6.117), (79.51, 6.172),
    (79.54, 6.218), (79.58, 6.208), (79.63, 6.215), (79.68, 6.108), (79.74, 6.037), (79.79, 6.023), (79.83, 6.011), (79.88, 6.010),
    (79.92, 5.995), (79.97, 5.993), (80.01, 5.988), (80.06, 6.020), (80.10, 6.020), (80.15, 6.048), (80.19, 6.048), (80.22, 6.135),
    (80.25, 6.085), (80.29, 5.998), (80.34, 5.977), (80.40, 5.976), (80.45, 5.966), (80.50, 5.959), (80.54, 5.963), (80.58, 6.103),
    (80.62, 6.140), (80.66, 6.225), (80.70, 6.199), (80.74, 6.144), (80.79, 6.133), (80.83, 6.117), (80.88, 6.020), (80.93, 6.000),
    (80.97, 6.057), (81.00, 6.128), (81.04, 6.073), (81.08, 6.080), (81.13, 6.144), (81.17, 6.206), (81.22, 6.092), (81.26, 6.076),
    (81.31, 6.037), (81.35, 6.004), (81.41, 6.003), (81.47, 6.009), (81.50, 6.103), (81.55, 6.080), (81.59, 6.055), (81.65, 6.057),
    (81.68, 6.096), (81.72, 6.034), (81.75, 6.081), (81.80, 6.078), (81.84, 6.037), (81.90, 6.057), (81.93, 6.135), (81.97, 6.092),
    (82.02, 6.127), (82.06, 6.096), (82.11, 6.156), (82.15, 6.076), (82.19, 6.144), (82.23, 6.110), (82.29, 6.094), (82.32, 6.078),
    (82.38, 6.078), (82.43, 6.048), (82.47, 6.191), (82.51, 6.190), (82.56, 6.109), (82.59, 6.199), (82.65, 6.186), (82.69, 6.223),
    (82.73, 6.199), (82.79, 6.213), (82.82, 6.218), (82.87, 6.202), (82.91, 6.202), (82.95, 6.163), (82.98, 6.186), (83.00, 6.181),
]

readings = seg_jul_aug + seg_aug_sep + seg_sep_oct + seg_oct + seg_late_oct
times = [start_date + timedelta(days=d) for d, _ in readings]
oxygen = np.array([v for _, v in readings])

plt.rcParams['font.family'] = ['DejaVu Sans Mono']
dark = '#262626'

fig = plt.figure(figsize=(40, 22.5), dpi=100)
ax = fig.add_axes([0.13, 0.11, 0.775, 0.815])
ax.plot(times, oxygen, color='#0072BD', lw=1.0)

ax.set_xlim(start_date, end_date)
ax.set_ylim(ml_ticks[0], ml_ticks[-1])
xt = np.linspace(mdates.date2num(start_date), mdates.date2num(end_date), len(date_labels))
ax.set_xticks(xt)
ax.set_xticklabels([lbl + "\n   " + year_label for lbl in date_labels], ma='left', linespacing=1.5)
ax.set_yticks(ml_ticks)
ax.set_yticklabels(["%g" % t for t in ml_ticks])

ax.spines['top'].set_visible(False)
ax.spines['right'].set_visible(False)
for s in ['left', 'bottom']:
    ax.spines[s].set_color(dark)
    ax.spines[s].set_linewidth(1.2)
ax.tick_params(axis='both', direction='in', length=21, width=1.1, labelsize=15, colors=dark)
ax.tick_params(axis='y', pad=6)
ax.tick_params(axis='x', pad=6)

ax.set_ylabel(left_label, fontsize=28, color='black')
ax.yaxis.set_label_coords(-0.016, 0.5)
ax.set_title(title, fontsize=22.5, fontweight='bold', pad=13)

ax2 = ax.twinx()
ax2.set_ylim(ml_ticks[0] * ml_to_mg, ml_ticks[-1] * ml_to_mg)
ax2.set_yticks(mg_ticks)
ax2.set_yticklabels(["%g" % t for t in mg_ticks])
for s in ['left', 'top', 'bottom']:
    ax2.spines[s].set_visible(False)
ax2.spines['right'].set_linewidth(1.2)
ax2.tick_params(axis='y', direction='in', length=21, width=1.1, labelsize=15, pad=4, colors='black')
ax2.set_ylabel(right_label, fontsize=28)
ax2.yaxis.set_label_coords(1.017, 0.5)

fig.savefig("out.png", dpi=100)
